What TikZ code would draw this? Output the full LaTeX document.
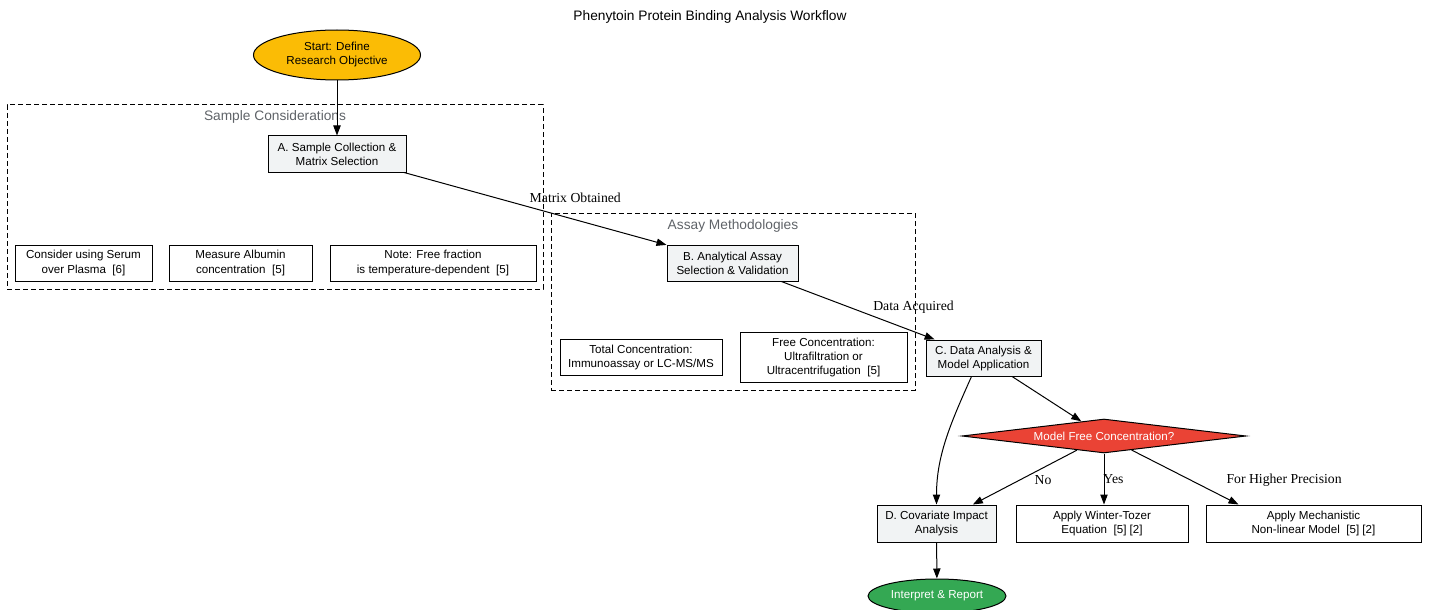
\documentclass[tikz,border=0pt]{standalone}
\usepackage{fontspec}
\setmainfont{Liberation Serif}
\newfontfamily\arialf{Liberation Sans}
\usetikzlibrary{shapes.geometric,arrows.meta,calc}
\definecolor{goldc}{HTML}{FBBC05}
\definecolor{redc}{HTML}{EA4335}
\definecolor{greenc}{HTML}{34A853}
\definecolor{lgray}{HTML}{F1F3F4}
\definecolor{cgray}{HTML}{5F6368}
\begin{document}
\begin{tikzpicture}[x=0.75pt,y=-0.75pt,
  base/.style={font=\arialf\fontsize{8.7}{10.5}\selectfont, align=center, inner sep=0pt, line width=0.75pt},
  box/.style={base, draw, rectangle, minimum height=27pt},
  proc/.style={box, fill=lgray},
  note/.style={box, fill=white},
  ell/.style={base, draw, ellipse},
  arr/.style={line width=0.75pt, -{Triangle[length=7.5pt,width=5.5pt]}},
  elabel/.style={font=\fontsize{10.3}{12}\selectfont, inner sep=0pt},
  cluster/.style={draw, dash pattern=on 3.5pt off 2.5pt, line width=0.75pt, inner sep=0pt},
  clabel/.style={font=\arialf\fontsize{10.3}{12}\selectfont, text=cgray, inner sep=0pt},
  titlestyle/.style={font=\arialf\fontsize{10.3}{12}\selectfont, inner sep=0pt}
]
\useasboundingbox (0,0) rectangle (1429,610);

% title
\node[titlestyle] (title) at (710,17) {Phenytoin Protein Binding Analysis Workflow};

% clusters
\node[cluster, minimum width=402pt, minimum height=138pt] (cl1) at (275,197) {};
\node[clabel] (cl1lab) at (275,117) {Sample Considerations};
\node[cluster, minimum width=273pt, minimum height=132.75pt] (cl2) at (733,301.5) {};
\node[clabel] (cl2lab) at (733,226) {Assay Methodologies};

% nodes
\node[ell, fill=goldc, minimum width=125.25pt, minimum height=37.5pt] (start) at (337,55) {Start: Define\\Research Objective};
\node[proc, minimum width=103.5pt] (A) at (337,154) {A. Sample Collection \&\\Matrix Selection};
\node[note, minimum width=102.75pt] (n1) at (83.5,263) {Consider using Serum\\over Plasma~~[6]};
\node[note, minimum width=107.25pt] (n2) at (240.5,263) {Measure Albumin\\concentration~~[5]};
\node[note, minimum width=154.5pt] (n3) at (433,263) {Note: Free fraction\\is temperature-dependent~~[5]};

\node[proc, minimum width=98.25pt] (B) at (732.5,263) {B. Analytical Assay\\Selection \& Validation};
\node[note, minimum width=121.5pt] (n4) at (641,357) {Total Concentration:\\Immunoassay or LC-MS/MS};
\node[note, minimum width=125.25pt, minimum height=37.5pt] (n5) at (823.5,357) {Free Concentration:\\Ultrafiltration or\\Ultracentrifugation~~[5]};

\node[proc, minimum width=86.25pt] (C) at (983.5,358) {C. Data Analysis \&\\Model Application};
\node[base, draw, diamond, fill=redc, text=white, shape aspect=8.35, minimum width=213pt, minimum height=25.5pt] (dia) at (1104,436) {Model Free Concentration?};

\node[proc, minimum width=89.25pt, minimum height=27.75pt] (D) at (936.5,523.5) {D. Covariate Impact\\Analysis};
\node[note, minimum width=129pt, minimum height=27.75pt] (WT) at (1102,523.5) {Apply Winter-Tozer\\Equation~~[5] [2]};
\node[note, minimum width=161.25pt, minimum height=27.75pt] (Mech) at (1313.5,523.5) {Apply Mechanistic\\Non-linear Model~~[5] [2]};

\node[ell, fill=greenc, text=white, minimum width=103.5pt, minimum height=25.5pt] (rep) at (937,596) {Interpret \& Report};

% edges
\draw[arr] (start) -- (A);
\draw[arr] (A) -- node[elabel, pos=0.5, xshift=30pt, yshift=7.9pt] {Matrix Obtained} (B);
\draw[arr] (B) -- node[elabel, pos=0.5, xshift=41.6pt, yshift=2.6pt] {Data Acquired} (C);
\draw[arr] (C) -- (dia);
\draw[arr] (C.237) .. controls +(-20,45) and +(0,-50) .. (D.north);
\draw[arr] (dia) -- node[elabel, pos=0.5, xshift=13.7pt, yshift=-2pt] {No} (D);
\draw[arr] (dia.south) -- node[elabel, pos=0.5, xshift=7.1pt] {Yes} (dia.south |- WT.north);
\coordinate (mtop) at ($(Mech.north)+(-75,0)$);
\draw[arr] (dia) -- node[elabel, pos=0.5, xshift=74.25pt, yshift=-1.9pt] {For Higher Precision} (mtop);
\draw[arr] (D) -- (rep);
\end{tikzpicture}
\end{document}
